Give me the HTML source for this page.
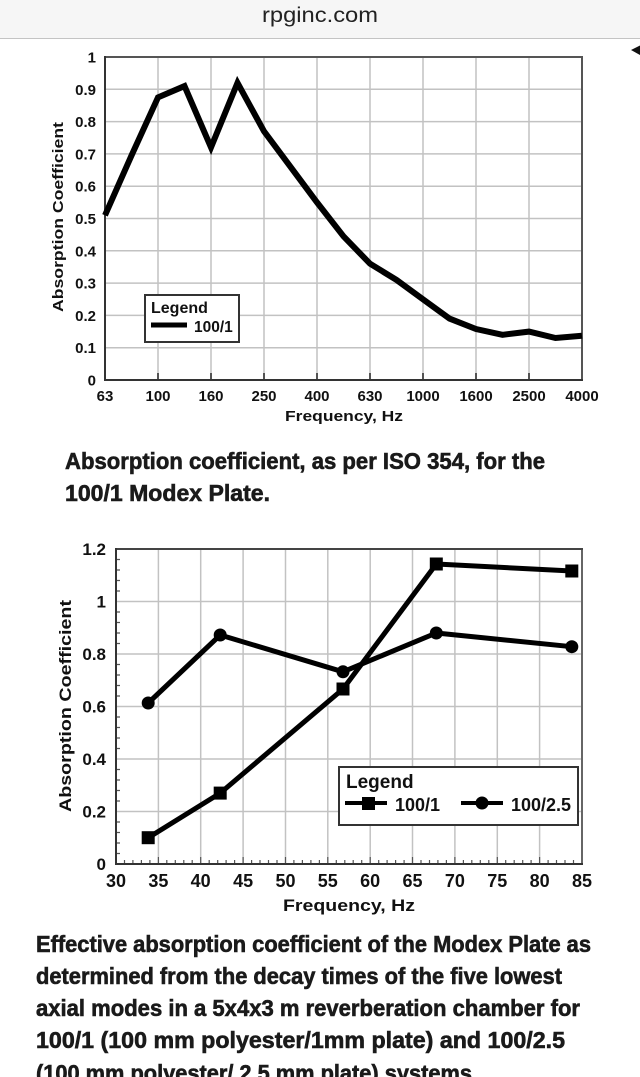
<!DOCTYPE html>
<html><head><meta charset="utf-8"><style>
html,body{margin:0;padding:0;background:#fff;width:640px;height:1077px;overflow:hidden}
svg{display:block}
.b{font-family:"Liberation Sans",Arial,sans-serif;font-weight:bold;fill:#111}
.cap{font-family:"Liberation Sans Narrow","Liberation Sans",Arial,sans-serif;font-weight:bold;fill:#1a1a1a;stroke:#1a1a1a;stroke-width:0.6;font-size:23px}
</style></head><body>
<svg width="640" height="1077" viewBox="0 0 640 1077" xmlns="http://www.w3.org/2000/svg">
<rect x="0" y="0" width="640" height="38" fill="#f6f6f6"/>
<line x1="0" y1="38.5" x2="640" y2="38.5" stroke="#c4c4c4" stroke-width="1"/>
<text x="320" y="22" text-anchor="middle" font-family="Liberation Sans,Arial,sans-serif" font-size="21" fill="#222" textLength="116" lengthAdjust="spacingAndGlyphs">rpginc.com</text>
<polygon points="631,50 640,45.5 640,55" fill="#111"/>

<!-- Chart 1 -->
<g stroke="#c2c2c2" stroke-width="1.5">
<line x1="105" y1="89.3" x2="582" y2="89.3"/><line x1="105" y1="121.6" x2="582" y2="121.6"/>
<line x1="105" y1="153.9" x2="582" y2="153.9"/><line x1="105" y1="186.2" x2="582" y2="186.2"/>
<line x1="105" y1="218.5" x2="582" y2="218.5"/><line x1="105" y1="250.8" x2="582" y2="250.8"/>
<line x1="105" y1="283.1" x2="582" y2="283.1"/><line x1="105" y1="315.4" x2="582" y2="315.4"/>
<line x1="105" y1="347.7" x2="582" y2="347.7"/>
<line x1="158" y1="57" x2="158" y2="380"/><line x1="211" y1="57" x2="211" y2="380"/>
<line x1="264" y1="57" x2="264" y2="380"/><line x1="317" y1="57" x2="317" y2="380"/>
<line x1="370" y1="57" x2="370" y2="380"/><line x1="423" y1="57" x2="423" y2="380"/>
<line x1="476" y1="57" x2="476" y2="380"/><line x1="529" y1="57" x2="529" y2="380"/>
</g>
<g stroke="#444" stroke-width="1.8">
<line x1="158" y1="373" x2="158" y2="380"/><line x1="211" y1="373" x2="211" y2="380"/>
<line x1="264" y1="373" x2="264" y2="380"/><line x1="317" y1="373" x2="317" y2="380"/>
<line x1="370" y1="373" x2="370" y2="380"/><line x1="423" y1="373" x2="423" y2="380"/>
<line x1="476" y1="373" x2="476" y2="380"/><line x1="529" y1="373" x2="529" y2="380"/>
</g>
<rect x="105" y="57" width="477" height="323" fill="none" stroke="#555" stroke-width="2"/>
<line x1="105" y1="56" x2="105" y2="381" stroke="#333" stroke-width="2"/>
<line x1="104" y1="380" x2="583" y2="380" stroke="#333" stroke-width="2"/>
<polyline fill="none" stroke="#000" stroke-width="6" stroke-linejoin="miter" stroke-miterlimit="6"
points="105,215.3 131.5,155.5 158,97.4 184.5,86.1 211,147.4 237.5,82.8 264,131.3 290.5,166.8 317,202.4 343.5,236.3 370,263.7 396.5,279.9 423,299.3 449.5,318.6 476,329 502.5,334.8 529,331.6 555.5,338 582,335.7"/>
<g class="b" font-size="15" text-anchor="end">
<text x="96" y="62.5">1</text><text x="96" y="94.8">0.9</text><text x="96" y="127.1">0.8</text>
<text x="96" y="159.4">0.7</text><text x="96" y="191.7">0.6</text><text x="96" y="224">0.5</text>
<text x="96" y="256.3">0.4</text><text x="96" y="288.6">0.3</text><text x="96" y="320.9">0.2</text>
<text x="96" y="353.2">0.1</text><text x="96" y="385.5">0</text>
</g>
<g class="b" font-size="15" text-anchor="middle">
<text x="105" y="401">63</text><text x="158" y="401">100</text><text x="211" y="401">160</text>
<text x="264" y="401">250</text><text x="317" y="401">400</text><text x="370" y="401">630</text>
<text x="423" y="401">1000</text><text x="476" y="401">1600</text><text x="529" y="401">2500</text>
<text x="582" y="401">4000</text>
</g>
<text class="b" x="285" y="421" font-size="15" textLength="118" lengthAdjust="spacingAndGlyphs">Frequency, Hz</text>
<text class="b" transform="translate(63,217) rotate(-90)" text-anchor="middle" font-size="15" textLength="190" lengthAdjust="spacingAndGlyphs">Absorption Coefficient</text>
<rect x="145" y="295" width="94" height="47" fill="#fff" stroke="#333" stroke-width="2"/>
<text class="b" x="151" y="313" font-size="16">Legend</text>
<line x1="151" y1="325" x2="187" y2="325" stroke="#000" stroke-width="5"/>
<text class="b" x="194" y="332" font-size="15.5">100/1</text>

<!-- Caption 1 -->
<text class="cap" x="65" y="469" textLength="480" lengthAdjust="spacingAndGlyphs">Absorption coefficient, as per ISO 354, for the</text>
<text class="cap" x="65" y="501" textLength="205" lengthAdjust="spacingAndGlyphs">100/1 Modex Plate.</text>

<!-- Chart 2 -->
<g stroke="#c2c2c2" stroke-width="1.5">
<line x1="116" y1="811.5" x2="582" y2="811.5"/><line x1="116" y1="759" x2="582" y2="759"/>
<line x1="116" y1="706.5" x2="582" y2="706.5"/><line x1="116" y1="654" x2="582" y2="654"/>
<line x1="116" y1="601.5" x2="582" y2="601.5"/>
<line x1="158.4" y1="549" x2="158.4" y2="864"/><line x1="200.7" y1="549" x2="200.7" y2="864"/>
<line x1="243.1" y1="549" x2="243.1" y2="864"/><line x1="285.5" y1="549" x2="285.5" y2="864"/>
<line x1="327.8" y1="549" x2="327.8" y2="864"/><line x1="370.2" y1="549" x2="370.2" y2="864"/>
<line x1="412.5" y1="549" x2="412.5" y2="864"/><line x1="454.9" y1="549" x2="454.9" y2="864"/>
<line x1="497.3" y1="549" x2="497.3" y2="864"/><line x1="539.6" y1="549" x2="539.6" y2="864"/>
</g>
<g stroke="#555" stroke-width="1.2">
<path d="M124.5 864v-4M132.9 864v-4M141.4 864v-4M149.9 864v-4M166.8 864v-4M175.3 864v-4M183.8 864v-4M192.2 864v-4M209.2 864v-4M217.7 864v-4M226.1 864v-4M234.6 864v-4M251.6 864v-4M260 864v-4M268.5 864v-4M277 864v-4M293.9 864v-4M302.4 864v-4M310.9 864v-4M319.4 864v-4M336.3 864v-4M344.8 864v-4M353.2 864v-4M361.7 864v-4M378.7 864v-4M387.1 864v-4M395.6 864v-4M404.1 864v-4M421 864v-4M429.5 864v-4M437.9 864v-4M446.4 864v-4M463.4 864v-4M471.8 864v-4M480.3 864v-4M488.8 864v-4M505.7 864v-4M514.2 864v-4M522.7 864v-4M531.1 864v-4M548.1 864v-4M556.5 864v-4M565 864v-4M573.5 864v-4"/>
<path d="M158.4 864v-7M200.7 864v-7M243.1 864v-7M285.5 864v-7M327.8 864v-7M370.2 864v-7M412.5 864v-7M454.9 864v-7M497.3 864v-7M539.6 864v-7"/>
<path d="M116 853.5h4M116 843h4M116 832.5h4M116 822h4M116 801h4M116 790.5h4M116 780h4M116 769.5h4M116 748.5h4M116 738h4M116 727.5h4M116 717h4M116 696h4M116 685.5h4M116 675h4M116 664.5h4M116 643.5h4M116 633h4M116 622.5h4M116 612h4M116 591h4M116 580.5h4M116 570h4M116 559.5h4"/>
</g>
<rect x="116" y="549" width="466" height="315" fill="none" stroke="#666" stroke-width="2"/>
<line x1="115" y1="549" x2="583" y2="549" stroke="#444" stroke-width="2"/>
<line x1="116" y1="548" x2="116" y2="865" stroke="#333" stroke-width="2"/>
<line x1="115" y1="864" x2="583" y2="864" stroke="#333" stroke-width="2"/>
<polyline fill="none" stroke="#000" stroke-width="5" stroke-linejoin="round" points="148.2,703 220.2,635 343,671.8 436.3,633 571.8,646.7"/>
<polyline fill="none" stroke="#000" stroke-width="5" stroke-linejoin="round" points="148.2,837.7 220.2,793.1 343,689 436.3,564 571.8,571"/>
<g fill="#000">
<circle cx="148.2" cy="703" r="6.5"/><circle cx="220.2" cy="635" r="6.5"/><circle cx="343" cy="671.8" r="6.5"/>
<circle cx="436.3" cy="633" r="6.5"/><circle cx="571.8" cy="646.7" r="6.5"/>
<rect x="141.7" y="831.2" width="13" height="13"/><rect x="213.7" y="786.6" width="13" height="13"/>
<rect x="336.5" y="682.5" width="13" height="13"/><rect x="429.8" y="557.5" width="13" height="13"/>
<rect x="565.3" y="564.5" width="13" height="13"/>
</g>
<g class="b" font-size="17" text-anchor="end">
<text x="106" y="555">1.2</text><text x="106" y="607.5">1</text><text x="106" y="660">0.8</text>
<text x="106" y="712.5">0.6</text><text x="106" y="765">0.4</text><text x="106" y="817.5">0.2</text>
<text x="106" y="870">0</text>
</g>
<g class="b" font-size="18" text-anchor="middle">
<text x="116" y="887">30</text><text x="158.4" y="887">35</text><text x="200.7" y="887">40</text>
<text x="243.1" y="887">45</text><text x="285.5" y="887">50</text><text x="327.8" y="887">55</text>
<text x="370.2" y="887">60</text><text x="412.5" y="887">65</text><text x="454.9" y="887">70</text>
<text x="497.3" y="887">75</text><text x="539.6" y="887">80</text><text x="582" y="887">85</text>
</g>
<text class="b" x="283" y="911" font-size="17" textLength="132" lengthAdjust="spacingAndGlyphs">Frequency, Hz</text>
<text class="b" transform="translate(71,706) rotate(-90)" text-anchor="middle" font-size="17" textLength="212" lengthAdjust="spacingAndGlyphs">Absorption Coefficient</text>
<rect x="339" y="767" width="239" height="58" fill="#fff" stroke="#333" stroke-width="2"/>
<text class="b" x="346" y="788" font-size="19">Legend</text>
<line x1="345" y1="803" x2="387" y2="803" stroke="#000" stroke-width="4"/>
<rect x="362" y="797" width="13" height="13" fill="#000"/>
<text class="b" x="395" y="811" font-size="18">100/1</text>
<line x1="461" y1="803" x2="503" y2="803" stroke="#000" stroke-width="4"/>
<circle cx="482" cy="803" r="6.5" fill="#000"/>
<text class="b" x="511" y="811" font-size="18">100/2.5</text>

<!-- Caption 2 -->
<text class="cap" x="36" y="952" textLength="555" lengthAdjust="spacingAndGlyphs">Effective absorption coefficient of the Modex Plate as</text>
<text class="cap" x="36" y="984" textLength="526" lengthAdjust="spacingAndGlyphs">determined from the decay times of the five lowest</text>
<text class="cap" x="36" y="1016" textLength="544" lengthAdjust="spacingAndGlyphs">axial modes in a 5x4x3 m reverberation chamber for</text>
<text class="cap" x="36" y="1048" textLength="529" lengthAdjust="spacingAndGlyphs">100/1 (100 mm polyester/1mm plate) and 100/2.5</text>
<text class="cap" x="36" y="1081" textLength="442" lengthAdjust="spacingAndGlyphs">(100 mm polyester/ 2.5 mm plate) systems.</text>
</svg>
</body></html>
